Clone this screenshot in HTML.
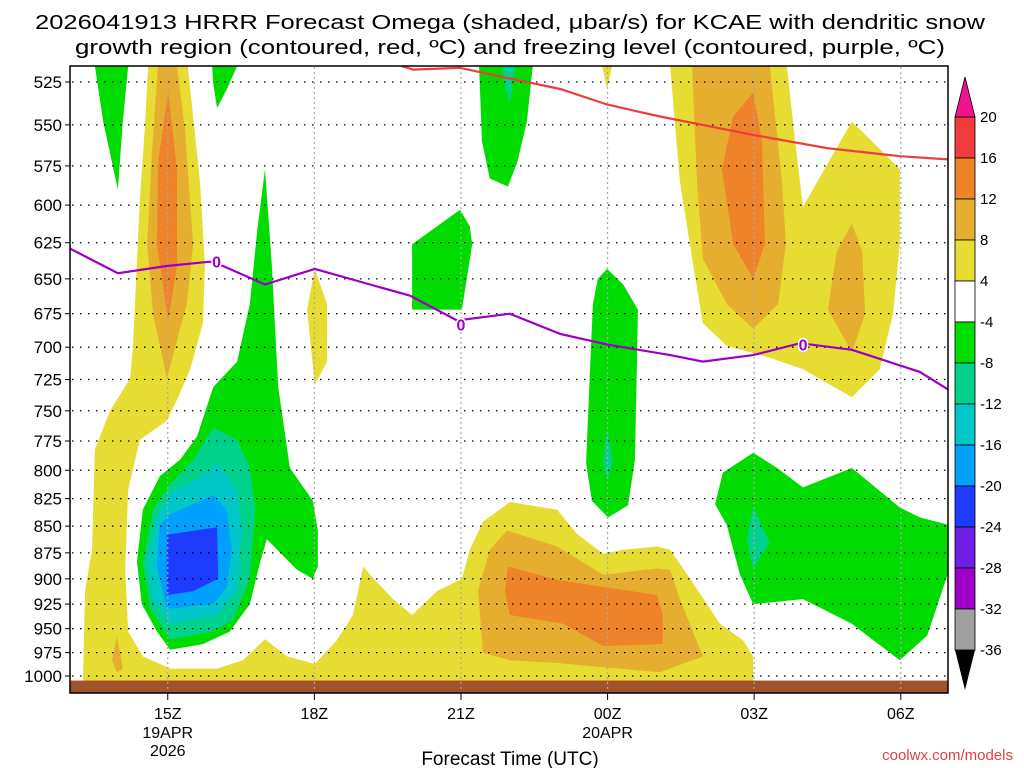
<!DOCTYPE html>
<html><head><meta charset="utf-8"><style>
html,body{margin:0;padding:0;background:#fff;}
svg{display:block;font-family:"Liberation Sans",sans-serif;}
</style></head><body>
<svg id="chart" width="1024" height="768" viewBox="0 0 1024 768">
<defs><clipPath id="pc"><rect x="70" y="66" width="878" height="627"/></clipPath></defs>
<g font-size="20.5" fill="#000">
<text x="510" y="29" text-anchor="middle" textLength="950" lengthAdjust="spacingAndGlyphs">2026041913 HRRR Forecast Omega (shaded, μbar/s) for KCAE with dendritic snow</text>
<text x="510" y="54" text-anchor="middle" textLength="870" lengthAdjust="spacingAndGlyphs">growth region (contoured, red, ºC) and freezing level (contoured, purple, ºC)</text>
</g>
<g id="fields" clip-path="url(#pc)"></g>
<g id="grid"></g>
<g id="lines" clip-path="url(#pc)"></g>
<rect x="70" y="66" width="878" height="627" fill="none" stroke="#000" stroke-width="1.5"/>
<g id="yaxis" font-size="17"></g>
<g id="xaxis" font-size="16"></g>
<text x="510" y="765" text-anchor="middle" font-size="19">Forecast Time (UTC)</text>
<text x="1013" y="760" text-anchor="end" font-size="15" fill="#e04040">coolwx.com/models</text>
<g id="cbar" font-size="15"></g>
</svg>
<script>
const pLevels=[525,550,575,600,625,650,675,700,725,750,775,800,825,850,875,900,925,950,975,1000];
const xTickHours=[2,5,8,11,14,17];
const xTickLabels=["15Z","18Z","21Z","00Z","03Z","06Z"];
const cbLevels=[20,16,12,8,4,-4,-8,-12,-16,-20,-24,-28,-32,-36];
const cbColors=["#f03c3c","#ee832a","#e6ae2e","#e6dc32","#ffffff","#00dc00","#00d28c","#00c8c8","#00a0ff","#1e3cff","#6e1ee6","#a000c8","#a0a0a0"];
const C={y:"#e6dc32",o8:"#e6ae2e",o12:"#ee832a",g:"#00dc00",t:"#00d28c",c:"#00c8c8",lb:"#00a0ff",b:"#1e3cff"};
// shaded regions in (hours since 13Z, hPa)
const yellowMain=[[1.60,516],[1.53,552],[1.43,596],[1.29,699],[1.23,724],[0.82,750],[0.51,782],[0.45,872],[0.31,911],[0.27,992],[0.27,1006],[13.98,1006],[13.98,979],[13.77,962],[13.30,945],[12.69,900],[12.28,872],[12.01,869],[11.32,872],[10.91,876],[10.37,857],[9.97,835],[9.00,828],[8.45,846],[8.18,872],[8.02,900],[7.51,912],[7.00,936],[6.61,920],[6.14,896],[6.00,888],[5.79,936],[5.46,962],[5.01,987],[4.44,979],[3.99,961],[3.54,983],[3.01,992],[2.05,992],[1.49,979],[1.19,953],[1.13,891],[1.19,817],[1.43,774],[1.98,758],[2.19,741],[2.46,717],[2.72,682],[2.76,640],[2.66,585],[2.41,516]];
const orangeLeft8=[[1.80,516],[2.19,516],[2.35,552],[2.52,626],[2.39,668],[1.98,724],[1.70,675],[1.58,626],[1.68,565]];
const orangeLeft12=[[2.01,531],[2.19,577],[2.19,640],[2.01,680],[1.78,626],[1.80,573]];
const orangeSmall8=[[0.96,958],[1.08,992],[0.96,996],[0.86,983]];
const yellow18Z=[[5.01,643],[5.26,668],[5.26,711],[5.01,729],[4.85,672]];
const greenTL=[[0.51,516],[1.19,516],[1.08,548],[0.98,590],[0.68,548]];
const greenSmall=[[2.91,516],[3.42,516],[3.21,529],[3.01,540],[2.93,526]];
const greenBig=[[3.99,577],[4.13,640],[4.26,731],[4.50,798],[4.97,827],[5.07,854],[5.07,888],[4.97,900],[4.64,891],[4.24,872],[4.03,862],[3.89,884],[3.68,925],[3.27,953],[2.72,966],[2.05,972],[1.78,953],[1.47,925],[1.37,884],[1.49,835],[1.84,805],[2.25,791],[2.60,771],[2.93,731],[3.42,711],[3.68,668],[3.83,617]];
const tealBig=[[2.93,764],[3.42,774],[3.68,798],[3.79,835],[3.68,900],[3.34,941],[2.93,953],[2.05,961],[1.64,929],[1.49,884],[1.70,835],[2.05,812],[2.52,791]];
const cyanBig=[[3.01,794],[3.42,817],[3.52,854],[3.42,912],[3.01,936],[2.05,945],[1.70,920],[1.60,884],[1.78,842],[2.05,820],[2.60,808]];
const ltblueBig=[[2.93,822],[3.21,835],[3.31,872],[3.21,908],[2.93,925],[1.98,930],[1.78,888],[1.84,849],[2.05,839]];
const blueBig=[[1.98,858],[3.01,851],[3.03,900],[2.52,912],[1.98,916]];
const orangeMid8=[[8.45,975],[8.35,912],[8.59,872],[8.94,854],[9.97,869],[10.91,896],[12.01,890],[12.28,891],[12.48,920],[12.95,979],[12.07,996],[9.97,986],[9.00,983]];
const orangeMid12=[[8.96,888],[9.97,901],[12.01,916],[12.13,936],[12.13,966],[10.91,968],[10.09,945],[9.00,936],[8.90,912]];
const greenMidTop=[[8.37,516],[9.47,516],[9.35,548],[9.15,573],[8.96,588],[8.59,583],[8.43,560]];
const tealMidTop=[[8.84,516],[9.11,516],[9.00,538],[8.90,526]];
const green21Z=[[7.00,626],[7.98,603],[8.18,614],[8.23,626],[8.02,672],[7.00,672]];
const green00Z=[[10.99,643],[11.32,654],[11.62,672],[11.60,714],[11.56,791],[11.42,831],[11.01,842],[10.68,827],[10.56,794],[10.64,717],[10.70,668],[10.80,650]];
const teal00Z=[[10.99,764],[11.11,793],[10.99,808],[10.91,793]];
const yellowTop00=[[10.89,516],[11.09,516],[10.99,529]];
const yellowRight=[[12.28,516],[14.67,516],[14.84,560],[15.00,601],[16.00,548],[16.98,577],[16.98,626],[16.84,675],[16.57,717],[16.00,739],[15.00,717],[14.32,708],[13.44,699],[12.95,682],[12.75,640],[12.48,585]];
const orangeRight8=[[12.73,516],[14.32,516],[14.57,585],[14.65,626],[14.49,668],[13.98,686],[13.44,668],[12.95,636],[12.83,585]];
const orangeRight12=[[13.98,531],[14.16,560],[14.22,626],[13.98,650],[13.57,626],[13.34,577],[13.57,545]];
const orangeRight8b=[[16.00,612],[16.21,631],[16.27,675],[16.00,704],[15.51,672],[15.69,631]];
const greenRight=[[13.98,785],[14.47,798],[15.00,815],[16.00,798],[16.98,833],[17.39,842],[18.01,849],[18.01,891],[17.95,897],[17.54,957],[16.98,983],[16.31,957],[16.00,945],[15.00,920],[13.98,925],[13.71,896],[13.44,849],[13.20,830],[13.36,802]];
const tealRight=[[13.98,833],[14.32,865],[13.98,890],[13.85,863]];
const dgzLine=[[6.79,516],[7.02,518],[7.98,517],[9.00,523],[10.03,529],[10.99,538],[12.07,545],[13.98,556],[15.49,564],[16.98,569],[17.97,571]];
const frzLine=[[0,629],[0.98,646],[1.98,641],[2.86,638],[3.13,641],[3.99,654],[5.01,643],[6.14,654],[6.96,662],[7.92,680],[9.00,675],[10.03,690],[10.99,698],[12.28,706],[12.95,711],[13.98,706],[14.94,697],[16.00,702],[17.39,719],[17.97,733]];
const frzLabels=[[3.0,638],[8.0,683],[15.0,698]];
const groundP=1005;

const X=h=>70+h*48.87, Y=p=>82+Math.log(p/525)*921.8;
const NS="http://www.w3.org/2000/svg";
function mk(tag,parent){const e=document.createElementNS(NS,tag);parent.appendChild(e);return e;}
const fields=document.getElementById('fields');
const layers=[["yellow-main",yellowMain,C.y],["orange-left-8",orangeLeft8,C.o8],["orange-left-12",orangeLeft12,C.o12],["orange-small",orangeSmall8,C.o8],["yellow-18z",yellow18Z,C.y],["green-top-left",greenTL,C.g],["green-small",greenSmall,C.g],["green-big",greenBig,C.g],["teal-big",tealBig,C.t],["cyan-big",cyanBig,C.c],["lightblue-big",ltblueBig,C.lb],["blue-big",blueBig,C.b],["orange-mid-8",orangeMid8,C.o8],["orange-mid-12",orangeMid12,C.o12],["green-mid-top",greenMidTop,C.g],["teal-mid-top",tealMidTop,C.t],["green-21z",green21Z,C.g],["green-00z",green00Z,C.g],["teal-00z",teal00Z,C.t],["yellow-top-00z",yellowTop00,C.y],["yellow-right",yellowRight,C.y],["orange-right-8",orangeRight8,C.o8],["orange-right-12",orangeRight12,C.o12],["orange-right-8b",orangeRight8b,C.o8],["green-right",greenRight,C.g],["teal-right",tealRight,C.t]];
layers.forEach(([n,pts,col])=>{const e=mk('polygon',fields);


e.setAttribute('points',pts.map(q=>X(q[0]).toFixed(1)+','+Y(q[1]).toFixed(1)).join(' '));e.setAttribute('fill',col);});
const g=mk('rect',fields);


g.setAttribute('x',70);g.setAttribute('y',Y(groundP));g.setAttribute('width',878);g.setAttribute('height',20);g.setAttribute('fill','#a0522d');
const grid=document.getElementById('grid');
pLevels.forEach(p=>{const l=mk('line',grid);


l.setAttribute('x1',72);l.setAttribute('x2',946);l.setAttribute('y1',Y(p));l.setAttribute('y2',Y(p));l.setAttribute('stroke','#000');l.setAttribute('stroke-width','1.3');l.setAttribute('stroke-dasharray','1.5 6.5');});
xTickHours.forEach(h=>{const l=mk('line',grid);


l.setAttribute('x1',X(h));l.setAttribute('x2',X(h));l.setAttribute('y1',67);l.setAttribute('y2',692);l.setAttribute('stroke','#aaa');l.setAttribute('stroke-width','1.2');l.setAttribute('stroke-dasharray','2 3');});
const lines=document.getElementById('lines');
function pl(pts,col,n){const e=mk('polyline',lines);


e.setAttribute('points',pts.map(q=>X(q[0]).toFixed(1)+','+Y(q[1]).toFixed(1)).join(' '));e.setAttribute('fill','none');e.setAttribute('stroke',col);e.setAttribute('stroke-width','2.2');}
pl(dgzLine,'#f03c3c','dgz-contour');pl(frzLine,'#9a00c8','freezing-level-contour');
frzLabels.forEach(q=>{const t=mk('text',lines);


t.setAttribute('x',X(q[0]));t.setAttribute('y',Y(q[1])+6);t.setAttribute('text-anchor','middle');t.setAttribute('font-size','16');t.setAttribute('font-weight','bold');t.setAttribute('fill','#9a00c8');t.setAttribute('stroke','#fff');t.setAttribute('stroke-width','3');t.setAttribute('paint-order','stroke');t.textContent='0';});
const ya=document.getElementById('yaxis');
pLevels.forEach(p=>{const t=mk('text',ya);


t.setAttribute('x',62);t.setAttribute('y',Y(p)+6);t.setAttribute('text-anchor','end');t.textContent=p;
const k=mk('line',ya);


k.setAttribute('x1',65);k.setAttribute('x2',70);k.setAttribute('y1',Y(p));k.setAttribute('y2',Y(p));k.setAttribute('stroke','#000');});
const xa=document.getElementById('xaxis');
xTickHours.forEach((h,i)=>{const k=mk('line',xa);


k.setAttribute('x1',X(h));k.setAttribute('x2',X(h));k.setAttribute('y1',693);k.setAttribute('y2',700);k.setAttribute('stroke','#000');
const t=mk('text',xa);


t.setAttribute('x',X(h));t.setAttribute('y',719);t.setAttribute('text-anchor','middle');t.textContent=xTickLabels[i];});
[["19APR",738],["2026",756]].forEach(([s,y])=>{const t=mk('text',xa);


t.setAttribute('x',X(2));t.setAttribute('y',y);t.setAttribute('text-anchor','middle');t.textContent=s;});
{const t=mk('text',xa);


t.setAttribute('x',X(11));t.setAttribute('y',738);t.setAttribute('text-anchor','middle');t.textContent='20APR';}
const cb=document.getElementById('cbar');
const cy0=117,cstep=41.0,cx=955,cw=20;
cbColors.forEach((col,i)=>{const r=mk('rect',cb);


r.setAttribute('x',cx);r.setAttribute('y',cy0+i*cstep);r.setAttribute('width',cw);r.setAttribute('height',cstep);r.setAttribute('fill',col);r.setAttribute('stroke','#000');r.setAttribute('stroke-width','0.8');});
{const a=mk('polygon',cb);


a.setAttribute('points',`${cx},${cy0} ${cx+cw},${cy0} ${cx+cw/2},${cy0-40}`);a.setAttribute('fill','#f0148c');a.setAttribute('stroke','#000');a.setAttribute('stroke-width','0.8');
const yb=cy0+cbColors.length*cstep;const b=mk('polygon',cb);


b.setAttribute('points',`${cx},${yb} ${cx+cw},${yb} ${cx+cw/2},${yb+40}`);b.setAttribute('fill','#000');}
cbLevels.forEach((v,i)=>{const t=mk('text',cb);


t.setAttribute('x',980);t.setAttribute('y',cy0+i*cstep+5);t.textContent=v;});
</script>
</body></html>
